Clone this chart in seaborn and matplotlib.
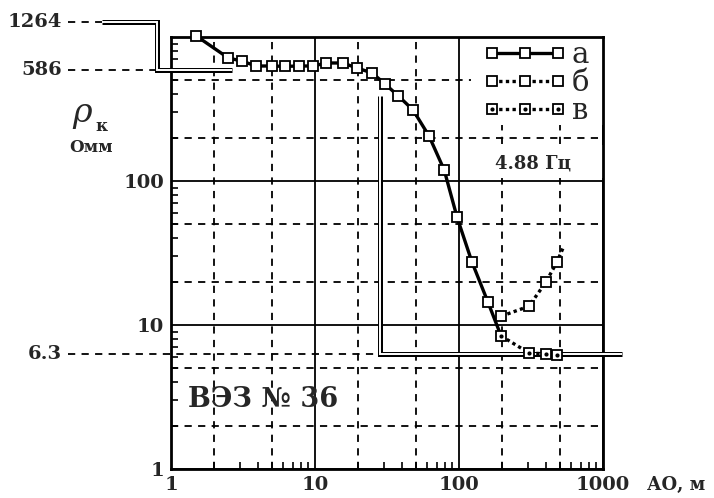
import matplotlib
matplotlib.use("Agg")
import matplotlib.pyplot as plt
import seaborn as sns
import pandas as pd
from matplotlib.lines import Line2D
from matplotlib.patches import Rectangle
from matplotlib.ticker import LogLocator, FixedLocator, NullFormatter
from matplotlib.legend_handler import HandlerTuple

# curve "а" (the last point only closes the line onto curve "в")
a_x = [1.5, 2.5, 3.1, 3.9, 5, 6.2, 7.7, 9.7, 12, 15.6, 19.6, 25, 30.6, 38, 48, 62, 79, 97, 123, 159, 196]
a_y = [1016, 715, 681, 629, 629, 625, 629, 629, 660, 660, 609, 562, 472, 389, 311, 205, 119, 56, 27.4, 14.4, 8.4]
# curve "б"
b_x = [196, 306, 402, 479, 536]
b_y = [11.5, 13.5, 19.9, 27.4, 35.4]
# curve "в"
v_x = [196, 306, 402, 479]
v_y = [8.4, 6.4, 6.3, 6.15]

# interpretation model
model_rho = [1264, 586, 6.3]
model_h = [0.8, 28.3]

x_ticks = [1, 10, 100, 1000]
x_labels = ["1", "10", "100", "1000"]
y_ticks = [1, 10, 100, 1000]
y_labels = ["1", "10", "100", ""]
grid_minor = [2, 5, 20, 50, 200, 500]

sns.set_theme(style="white")
plt.rcParams['font.family'] = ['DejaVu Serif']

fig = plt.figure(figsize=(7.14, 4.98), dpi=100)
ax = fig.add_axes([0.2395, 0.0582, 0.6050, 0.8675])
ax.set_xscale('log')
ax.set_yscale('log')
ax.set_xlim(1, 1000)
ax.set_ylim(1, 1000)

# grid
ax.grid(which='major', color='black', lw=1.3, ls='-')
for g in grid_minor:
    ax.axvline(g, color='black', lw=1.3, ls=(0, (4, 3.5)), zorder=1)
    ax.axhline(g, color='black', lw=1.3, ls=(0, (4, 3.5)), zorder=1)

# white areas behind the legend and the frequency label
ax.add_patch(Rectangle((0.694, 0.796), 0.306, 0.204, transform=ax.transAxes,
                       facecolor='white', edgecolor='none', zorder=1.5))
ax.add_patch(Rectangle((0.694, 0.674), 0.306, 0.076, transform=ax.transAxes,
                       facecolor='white', edgecolor='none', zorder=1.5))

mk = dict(marker='s', markersize=7.5, markerfacecolor='white',
          markeredgecolor='black', markeredgewidth=1.3, color='black')
dots = (0, (1, 1))

df_a = pd.DataFrame({'x': a_x, 'y': a_y})
df_b = pd.DataFrame({'x': b_x, 'y': b_y})
df_v = pd.DataFrame({'x': v_x, 'y': v_y})

sns.lineplot(data=df_a, x='x', y='y', ax=ax, lw=2.4, markevery=list(range(len(a_x) - 1)),
             errorbar=None, legend=False, zorder=6, clip_on=False, **mk)
sns.lineplot(data=df_b, x='x', y='y', ax=ax, lw=2.4, ls=dots, dash_capstyle='butt',
             markevery=list(range(len(b_x) - 1)), errorbar=None, legend=False,
             zorder=6, clip_on=False, **mk)
sns.lineplot(data=df_v, x='x', y='y', ax=ax, lw=2.4, ls=dots, dash_capstyle='butt',
             errorbar=None, legend=False, zorder=6, clip_on=False, **mk)
ax.plot(v_x, v_y, ls='none', marker='.', markersize=4, color='black', zorder=7, clip_on=False)


def double_line(xs, ys):
    ax.plot(xs, ys, color='black', lw=3.6, clip_on=False, solid_joinstyle='miter',
            solid_capstyle='butt', zorder=4)
    ax.plot(xs, ys, color='white', lw=1.4, clip_on=False, solid_joinstyle='miter',
            solid_capstyle='butt', zorder=4.1)


double_line([0.33, model_h[0], model_h[0], 2.65],
            [model_rho[0], model_rho[0], model_rho[1], model_rho[1]])
double_line([model_h[1], model_h[1], 1350], [390, model_rho[2], model_rho[2]])

# reference lines to the left labels
for val, x_end in zip(model_rho, [0.33, model_h[0], model_h[1]]):
    ax.plot([0.193, x_end], [val, val], color='black', lw=1.3, ls=(0, (4, 3.5)),
            clip_on=False, zorder=3)
    ax.text(0.175, val, f"{val:g}", ha='right', va='center', fontsize=14,
            fontweight='bold')

# ticks
ax.xaxis.set_major_locator(FixedLocator(x_ticks))
ax.set_xticklabels(x_labels)
ax.yaxis.set_major_locator(FixedLocator(y_ticks))
ax.set_yticklabels(y_labels)
ax.xaxis.set_minor_locator(LogLocator(base=10, subs=range(2, 10)))
ax.yaxis.set_minor_locator(LogLocator(base=10, subs=range(2, 10)))
ax.xaxis.set_minor_formatter(NullFormatter())
ax.yaxis.set_minor_formatter(NullFormatter())
ax.tick_params(which='major', direction='in', length=0, pad=5, labelsize=14)
ax.tick_params(which='minor', direction='in', length=5, width=1.2, color='black',
               bottom=True, left=True, top=False, right=False)
for lab in ax.get_xticklabels() + ax.get_yticklabels():
    lab.set_fontweight('bold')
ax.set_xlabel('')
ax.set_ylabel('')
for sp in ax.spines.values():
    sp.set_color('black')
    sp.set_linewidth(2)

# axis captions
fig.text(0.115, 0.773, "ρ", fontsize=24, fontstyle='italic', ha='center', va='center')
fig.text(0.142, 0.745, "к", fontsize=12, fontweight='bold', ha='center', va='center')
fig.text(0.127, 0.703, "Омм", fontsize=12, fontweight='bold', ha='center', va='center')
fig.text(0.906, 0.026, "АО, м", fontsize=13, fontweight='bold', ha='left', va='center')

ax.text(0.039, 0.162, "ВЭЗ № 36", transform=ax.transAxes, fontsize=19.5,
        fontweight='bold', ha='left', va='center', zorder=8)
ax.text(0.838, 0.708, "4.88 Гц", transform=ax.transAxes, fontsize=13,
        fontweight='bold', ha='center', va='center', zorder=8)

# legend
h_a = Line2D([], [], lw=2.4, **mk)
h_b = Line2D([], [], lw=2.4, ls=dots, dash_capstyle='butt', **mk)
h_v = Line2D([], [], lw=2.4, ls=dots, dash_capstyle='butt', **mk)
h_vd = Line2D([], [], ls='none', marker='.', markersize=4, color='black')
leg = ax.legend([h_a, h_b, (h_v, h_vd)], ["а", "б", "в"], loc='upper left',
                bbox_to_anchor=(0.724, 0.990), borderaxespad=0, numpoints=3,
                handlelength=2.83, handletextpad=0.18, labelspacing=-0.01,
                borderpad=0, fontsize=21, frameon=False,
                handler_map={tuple: HandlerTuple(ndivide=1)})
leg.set_zorder(9)

fig.savefig('out.png', dpi=100)
